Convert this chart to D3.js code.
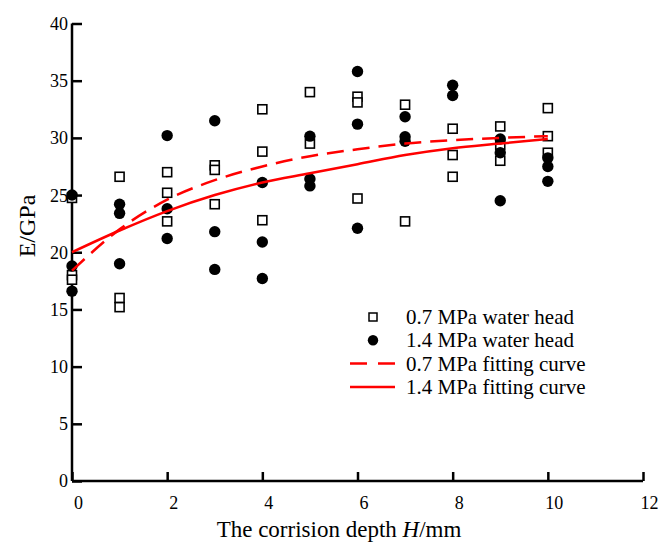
<!DOCTYPE html>
<html>
<head>
<meta charset="utf-8">
<script src="https://cdn.jsdelivr.net/npm/d3@7"></script>
<style>
  html, body { margin: 0; padding: 0; background: #fff; }
  svg { display: block; font-family: "Liberation Serif", "Times New Roman", serif; }
</style>
</head>
<body>
<svg id="chart" width="659" height="545"></svg>
<script>
// ---- data ----
const xTicks = [0, 2, 4, 6, 8, 10, 12];
const yTicks = [0, 5, 10, 15, 20, 25, 30, 35, 40];

// 0.7 MPa water head (squares)
const sq07X = [0, 0, 0, 1, 1, 1, 2, 2, 2, 3, 3, 3, 4, 4, 4, 5, 5, 6, 6, 6, 7, 7, 8, 8, 8, 9, 9, 9, 10, 10, 10];
const sq07Y = [24.75, 18.0, 17.6, 26.6, 16.0, 15.2, 27.0, 25.2, 22.7, 27.6, 27.2, 24.2, 32.5, 28.8, 22.8, 34.0, 29.5, 33.6, 33.1, 24.7, 32.9, 22.7, 30.8, 28.5, 26.6, 31.0, 29.4, 28.0, 32.6, 30.15, 28.7];

// 1.4 MPa water head (circles)
const ci14X = [0, 0, 0, 1, 1, 1, 2, 2, 2, 3, 3, 3, 4, 4, 4, 5, 5, 5, 6, 6, 6, 7, 7, 7, 8, 8, 9, 9, 9, 10, 10, 10];
const ci14Y = [25.0, 18.8, 16.6, 24.2, 23.4, 19.0, 30.2, 23.8, 21.2, 31.5, 21.8, 18.5, 26.1, 20.9, 17.7, 30.15, 26.4, 25.8, 35.8, 31.2, 22.1, 31.85, 30.1, 29.7, 34.6, 33.7, 29.9, 28.7, 24.5, 28.25, 27.5, 26.2];

// fitting curves
const fitX = [0, 1, 2, 3, 4, 5, 6, 7, 8, 9, 10];
const fit07 = [18.4, 22.0, 24.6, 26.3, 27.5, 28.4, 29.0, 29.5, 29.8, 30.0, 30.15];
const fit14 = [20.0, 21.9, 23.6, 25.0, 26.1, 26.9, 27.7, 28.5, 29.1, 29.5, 29.9];

const legendLabels = ["0.7 MPa water head", "1.4 MPa water head", "0.7 MPa fitting curve", "1.4 MPa fitting curve"];

// ---- drawing ----
const svg = d3.select("#chart");
const x = d3.scaleLinear().domain([0, 12]).range([72, 643]);
const y = d3.scaleLinear().domain([0, 40]).range([481, 23.5]);

// axes
const xAxis = d3.axisBottom(x).tickValues(xTicks).tickSize(-9).tickPadding(0).tickFormat(d3.format("d"));
const yAxis = d3.axisLeft(y).tickValues(yTicks).tickSize(-10).tickPadding(0).tickFormat(d3.format("d"));

const gx = svg.append("g").attr("transform", `translate(0,${y(0)})`).call(xAxis);
const gy = svg.append("g").attr("transform", `translate(${x(0)},0)`).call(yAxis);

[gx, gy].forEach(g => {
  g.select(".domain").attr("stroke", "#000").attr("stroke-width", 2.5);
  g.selectAll(".tick line").attr("stroke", "#000").attr("stroke-width", 2.5);
  g.selectAll(".tick text").attr("font-family", "Liberation Serif, serif").attr("font-size", 18).attr("fill", "#000");
});
gx.select(".domain").attr("d", `M${x(0)},0H${x(12)}`);
gy.select(".domain").attr("d", `M0,${y(0)}V${y(40)}`);
gx.selectAll(".tick text").attr("y", 28).attr("dy", 0).attr("dx", 6);
gy.selectAll(".tick text").attr("x", -4).attr("dy", "0.33em");

// squares
const sqData = sq07X.map((d, i) => ({ x: d, y: sq07Y[i] }));
const ciData = ci14X.map((d, i) => ({ x: d, y: ci14Y[i] }));
const S = 9;
svg.append("g").selectAll("rect").data(sqData).join("rect")
  .attr("x", d => x(d.x) - S / 2).attr("y", d => y(d.y) - S / 2)
  .attr("width", S).attr("height", S)
  .attr("fill", "#fff").attr("stroke", "#000").attr("stroke-width", 1.6);

svg.append("g").selectAll("circle").data(ciData).join("circle")
  .attr("cx", d => x(d.x)).attr("cy", d => y(d.y)).attr("r", 5.7)
  .attr("fill", "#000");

// curves
const line = d3.line().x(d => x(d[0])).y(d => y(d[1])).curve(d3.curveMonotoneX);
svg.append("path").datum(fitX.map((v, i) => [v, fit07[i]]))
  .attr("d", line).attr("fill", "none").attr("stroke", "#ff0000")
  .attr("stroke-width", 2.5).attr("stroke-dasharray", "17,9");
svg.append("path").datum(fitX.map((v, i) => [v, fit14[i]]))
  .attr("d", line).attr("fill", "none").attr("stroke", "#ff0000")
  .attr("stroke-width", 2.5);

// legend
const lg = svg.append("g");
const rowY = [317, 340.3, 363.6, 387];
const symX = 373;
lg.append("rect").attr("x", symX - 4).attr("y", rowY[0] - 4).attr("width", 8).attr("height", 8)
  .attr("fill", "#fff").attr("stroke", "#000").attr("stroke-width", 1.5);
lg.append("circle").attr("cx", symX).attr("cy", rowY[1]).attr("r", 5.2).attr("fill", "#000");
lg.append("line").attr("x1", 350).attr("x2", 395).attr("y1", rowY[2]).attr("y2", rowY[2])
  .attr("stroke", "#ff0000").attr("stroke-width", 2.5).attr("stroke-dasharray", "17,11");
lg.append("line").attr("x1", 350).attr("x2", 395).attr("y1", rowY[3]).attr("y2", rowY[3])
  .attr("stroke", "#ff0000").attr("stroke-width", 2.5);
lg.selectAll("text").data(legendLabels).join("text")
  .attr("x", 406).attr("y", (d, i) => rowY[i] + 7)
  .attr("font-size", 21).attr("fill", "#000").text(d => d);

// axis titles
svg.append("text").attr("transform", "translate(35,226) rotate(-90)")
  .attr("text-anchor", "middle").attr("font-size", 24).attr("fill", "#000").text("E/GPa");

const xt = svg.append("text").attr("x", 339).attr("y", 537)
  .attr("text-anchor", "middle").attr("font-size", 23).attr("fill", "#000");
xt.append("tspan").text("The corrision depth ");
xt.append("tspan").attr("font-style", "italic").text("H");
xt.append("tspan").text("/mm");
</script>
</body>
</html>
